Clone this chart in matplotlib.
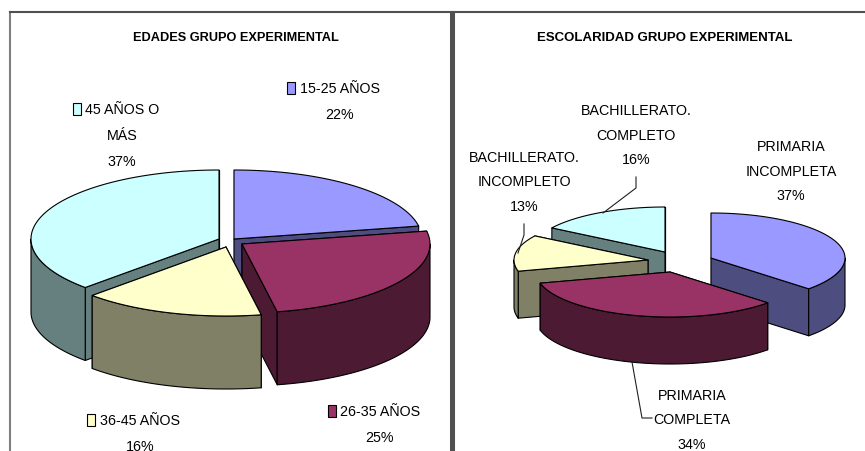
import numpy as np
import matplotlib
matplotlib.use("Agg")
import matplotlib.pyplot as plt
from matplotlib.patches import Polygon, Rectangle

# ---- data ----
edad_names = ["15-25 AÑOS", "26-35 AÑOS", "36-45 AÑOS", "45 AÑOS O\nMÁS"]
edad_values = [22, 25, 15.6, 37.4]
esc_names = ["PRIMARIA\nINCOMPLETA", "PRIMARIA\nCOMPLETA", "BACHILLERATO.\nINCOMPLETO", "BACHILLERATO.\nCOMPLETO"]
esc_values = [37, 34, 13, 16]
title_left = "EDADES GRUPO EXPERIMENTAL"
title_right = "ESCOLARIDAD GRUPO EXPERIMENTAL"
face_colors = ["#9999FF", "#993366", "#FFFFCC", "#CCFFFF"]
wall_colors = ["#4D4D80", "#4D1A33", "#808066", "#668080"]

# ---- layout (pixel positions of the reference) ----
W, H = 865, 451
FONT = "Liberation Sans"
LABEL_FS = 10.3

left_geo = dict(rx=188, ry=69, depth=73,
                apex=[(234, 239), (242, 244), (226, 247), (219, 239)],
                order=[0, 3, 1, 2])
right_geo = dict(rx=134, ry=45, depth=47,
                 apex=[(711, 258), (670, 272), (648, 260), (665, 252)],
                 order=[3, 2, 0, 1])

fig = plt.figure(figsize=(W / 100, H / 100), dpi=100, facecolor="white")


def panel(x0, x1, y0, y1):
    ax = fig.add_axes([x0 / W, 1 - y1 / H, (x1 - x0) / W, (y1 - y0) / H])
    ax.set_xlim(x0, x1)
    ax.set_ylim(y1, y0)
    ax.set_xticks([])
    ax.set_yticks([])
    ax.spines["bottom"].set_visible(False)
    return ax


def pie3d(ax, values, geo):
    vals = np.asarray(values, float)
    edges = np.concatenate([[0], np.cumsum(vals) / vals.sum() * 2 * np.pi])
    rx, ry, d = geo["rx"], geo["ry"], geo["depth"]
    for i in geo["order"]:
        cx, cy = geo["apex"][i]
        t1, t2 = edges[i], edges[i + 1]

        def pt(t):
            return np.column_stack([cx + rx * np.sin(t), cy - ry * np.cos(t)])
        kw = dict(edgecolor="black", linewidth=0.8, joinstyle="round")
        # back-most radial wall first, so the front one hides it
        for t in sorted((t1, t2), key=lambda a: -np.cos(a)):
            p = pt(np.array([t]))[0]
            ax.add_patch(Polygon([(cx, cy), p, (p[0], p[1] + d), (cx, cy + d)],
                                 facecolor=wall_colors[i], **kw))
        a, b = max(t1, np.pi / 2), min(t2, 1.5 * np.pi)
        if b > a:
            arc = pt(np.linspace(a, b, 100))
            low = arc[::-1] + [0, d]
            ax.add_patch(Polygon(np.vstack([arc, low]), facecolor=wall_colors[i], **kw))
        arc = pt(np.linspace(t1, t2, 200))
        ax.add_patch(Polygon(np.vstack([[(cx, cy)], arc]), facecolor=face_colors[i], **kw))


def label(ax, x, y, text, step):
    for k, line in enumerate(text.split("\n")):
        ax.text(x, y + k * step, line, ha="center", va="center", family=FONT,
                fontsize=LABEL_FS, color="black")


def key(ax, x, y, color):
    ax.add_patch(Rectangle((x, y), 8, 12, facecolor=color, edgecolor="black", linewidth=0.8))


axL = panel(10, 451, 12, 451)
axR = panel(453, 865, 12, 451)
for ax in (axL, axR):
    for s in ax.spines.values():
        s.set_color("#505050")
        s.set_linewidth(1.5)
axL.spines["right"].set_linewidth(2.2)
axL.spines["left"].set_color("#808080")
axR.spines["left"].set_linewidth(2.2)
axR.spines["right"].set_visible(False)

pie3d(axL, edad_values, left_geo)
pie3d(axR, esc_values, right_geo)

axL.text(235.5, 38, title_left, ha="center", va="center", family=FONT, weight="bold", fontsize=9.2)
axR.text(665, 38, title_right, ha="center", va="center", family=FONT, weight="bold", fontsize=9.5)

# left labels: (text centre of the block, legend key)
L_POS = [(340, 89, 287, 82), (380, 412, 328, 405), (140, 421, 87, 414), (122, 110, 73, 103)]
for i, (x, y, kx, ky) in enumerate(L_POS):
    label(axL, x, y, f"{edad_names[i]}\n{round(edad_values[i])}%", 26)
    key(axL, kx, ky, face_colors[i])

R_POS = [(791, 147), (692, 396), (524, 158), (636, 111)]
for i, (x, y) in enumerate(R_POS):
    label(axR, x, y, f"{esc_names[i]}\n{esc_values[i]}%", 24.5)

# leader lines
LEADERS = [([636, 636, 603], [177, 188, 213]),
           ([524, 524, 518], [224, 235, 253]),
           ([632, 642, 652], [362, 418, 418])]
for xs, ys in LEADERS:
    axR.plot(xs, ys, color="#202020", linewidth=0.8)

fig.savefig("out.png", dpi=100)
